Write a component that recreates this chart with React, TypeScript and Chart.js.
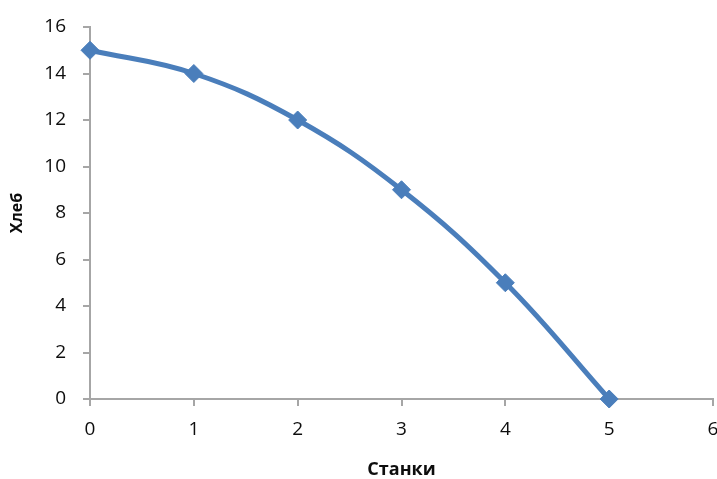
import React, { useEffect, useRef } from "react";
import { Chart, registerables } from "chart.js";

Chart.register(...registerables);

const machines = [0, 1, 2, 3, 4, 5];
const bread = [15, 14, 12, 9, 5, 0];
const xTitle = "Станки";
const yTitle = "Хлеб";

const FONT = "'Open Sans', 'DejaVu Sans', sans-serif";
const BLUE = "#4a7ebb";
const AXIS = "#a6a6a6";
const TEXT = "#0d0d0d";

export default function App() {
  const ref = useRef<HTMLCanvasElement | null>(null);

  useEffect(() => {
    if (!ref.current) return;
    const chart = new Chart(ref.current, {
      type: "line",
      data: {
        datasets: [
          {
            data: machines.map((m, i) => ({ x: m, y: bread[i] })),
            borderColor: BLUE,
            backgroundColor: BLUE,
            borderWidth: 5,
            tension: 0.4,
            pointStyle: "rectRot",
            pointRadius: 9,
            pointBorderWidth: 1,
            pointBackgroundColor: BLUE,
            pointBorderColor: BLUE,
            clip: false,
          } as any,
        ],
      },
      options: {
        animation: false,
        responsive: true,
        maintainAspectRatio: false,
        layout: { autoPadding: false, padding: { top: 27, right: 4, left: 0, bottom: 0 } },
        plugins: { legend: { display: false }, tooltip: { enabled: false } },
        scales: {
          x: {
            type: "linear",
            min: 0,
            max: 6,
            ticks: {
              stepSize: 1,
              padding: 12,
              color: TEXT,
              font: { family: FONT, size: 19 },
            },
            grid: {
              display: true,
              drawOnChartArea: false,
              drawTicks: true,
              tickLength: 7,
              color: AXIS,
              lineWidth: 2,
            },
            border: { display: true, color: AXIS, width: 2 },
            title: {
              display: true,
              text: xTitle,
              color: TEXT,
              font: { family: FONT, size: 18, weight: "bold", lineHeight: 1 },
              padding: { top: 0, bottom: 0 },
            },
            afterFit: (s: any) => {
              s.height = 80;
              s.paddingLeft = 0;
              s.paddingRight = 0;
            },
          },
          y: {
            type: "linear",
            min: 0,
            max: 16,
            ticks: {
              stepSize: 2,
              padding: 17,
              color: TEXT,
              font: { family: FONT, size: 19 },
            },
            grid: {
              display: true,
              drawOnChartArea: false,
              drawTicks: true,
              tickLength: 7,
              color: AXIS,
              lineWidth: 2,
            },
            border: { display: true, color: AXIS, width: 2 },
            title: {
              display: true,
              text: yTitle,
              color: TEXT,
              font: { family: FONT, size: 16, weight: "bold", lineHeight: 1.2 },
              padding: { top: 8, bottom: 0 },
            },
            afterFit: (s: any) => {
              s.width = 90;
              s.paddingTop = 0;
              s.paddingBottom = 0;
            },
          },
        },
      } as any,
    });
    return () => chart.destroy();
  }, []);

  return (
    <div
      style={{
        position: "fixed",
        left: 0,
        top: 0,
        width: 717,
        height: 479,
        background: "#fff",
      }}
    >
      <canvas ref={ref} />
    </div>
  );
}
